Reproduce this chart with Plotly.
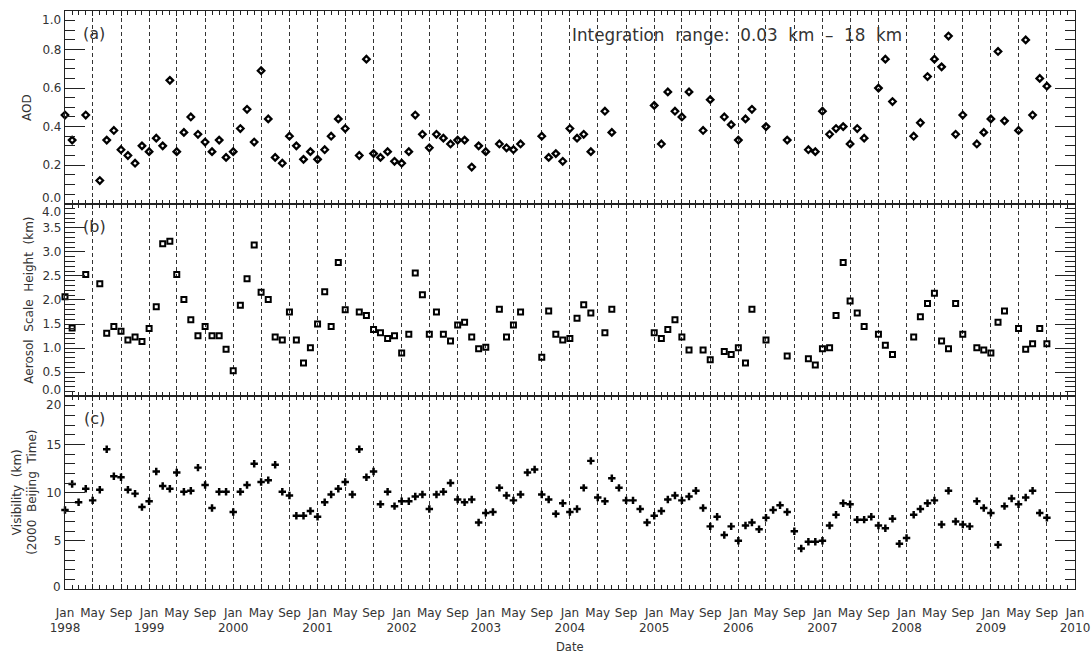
import pandas as pd
import plotly.graph_objects as go
from plotly.subplots import make_subplots

# ---------------- data ----------------
lidar_months = [
    "1998-01", "1998-02", "1998-04", "1998-06", "1998-07", "1998-08", "1998-09", "1998-10", "1998-11", "1998-12",
    "1999-01", "1999-02", "1999-03", "1999-04", "1999-05", "1999-06", "1999-07", "1999-08", "1999-09", "1999-10", "1999-11", "1999-12",
    "2000-01", "2000-02", "2000-03", "2000-04", "2000-05", "2000-06", "2000-07", "2000-08", "2000-09", "2000-10", "2000-11", "2000-12",
    "2001-01", "2001-02", "2001-03", "2001-04", "2001-05", "2001-07", "2001-08", "2001-09", "2001-10", "2001-11", "2001-12",
    "2002-01", "2002-02", "2002-03", "2002-04", "2002-05", "2002-06", "2002-07", "2002-08", "2002-09", "2002-10", "2002-11", "2002-12",
    "2003-01", "2003-03", "2003-04", "2003-05", "2003-06", "2003-09", "2003-10", "2003-11", "2003-12",
    "2004-01", "2004-02", "2004-03", "2004-04", "2004-06", "2004-07",
    "2005-01", "2005-02", "2005-03", "2005-04", "2005-05", "2005-06", "2005-08", "2005-09", "2005-11", "2005-12",
    "2006-01", "2006-02", "2006-03", "2006-05", "2006-08", "2006-11", "2006-12",
    "2007-01", "2007-02", "2007-03", "2007-04", "2007-05", "2007-06", "2007-07", "2007-09", "2007-10", "2007-11",
    "2008-02", "2008-03", "2008-04", "2008-05", "2008-06", "2008-07", "2008-08", "2008-09", "2008-11", "2008-12",
    "2009-01", "2009-02", "2009-03", "2009-05", "2009-06", "2009-07", "2009-08", "2009-09",
]

aod = [
    0.46, 0.33, 0.46, 0.12, 0.33, 0.38, 0.28, 0.25, 0.21, 0.30,
    0.27, 0.34, 0.30, 0.64, 0.27, 0.37, 0.45, 0.36, 0.32, 0.27, 0.33, 0.24,
    0.27, 0.39, 0.49, 0.32, 0.69, 0.44, 0.24, 0.21, 0.35, 0.30, 0.23, 0.27,
    0.23, 0.28, 0.35, 0.44, 0.39, 0.25, 0.75, 0.26, 0.24, 0.27, 0.22,
    0.21, 0.27, 0.46, 0.36, 0.29, 0.36, 0.34, 0.31, 0.33, 0.33, 0.19, 0.30,
    0.27, 0.31, 0.29, 0.28, 0.31, 0.35, 0.24, 0.26, 0.22,
    0.39, 0.34, 0.36, 0.27, 0.48, 0.37,
    0.51, 0.31, 0.58, 0.48, 0.45, 0.58, 0.38, 0.54, 0.45, 0.41,
    0.33, 0.44, 0.49, 0.40, 0.33, 0.28, 0.27,
    0.48, 0.36, 0.39, 0.40, 0.31, 0.39, 0.34, 0.60, 0.75, 0.53,
    0.35, 0.42, 0.66, 0.75, 0.71, 0.87, 0.36, 0.46, 0.31, 0.37,
    0.44, 0.79, 0.43, 0.38, 0.85, 0.46, 0.65, 0.61,
]

scale_height = [
    2.07, 1.42, 2.53, 2.34, 1.31, 1.45, 1.35, 1.17, 1.23, 1.14,
    1.41, 1.86, 3.17, 3.22, 2.53, 2.01, 1.59, 1.26, 1.45, 1.26, 1.26, 0.98,
    0.53, 1.89, 2.44, 3.14, 2.16, 2.01, 1.23, 1.17, 1.75, 1.17, 0.69, 1.01,
    1.50, 2.17, 1.45, 2.78, 1.80, 1.75, 1.68, 1.39, 1.32, 1.20, 1.26,
    0.90, 1.29, 2.56, 2.11, 1.29, 1.75, 1.29, 1.15, 1.48, 1.54, 1.23, 0.99,
    1.02, 1.81, 1.23, 1.48, 1.75, 0.81, 1.77, 1.29, 1.17,
    1.20, 1.62, 1.90, 1.73, 1.32, 1.81,
    1.32, 1.20, 1.39, 1.59, 1.23, 0.96, 0.96, 0.76, 0.93, 0.87,
    1.01, 0.69, 1.81, 1.17, 0.84, 0.78, 0.65,
    0.99, 1.01, 1.68, 2.78, 1.98, 1.73, 1.45, 1.29, 1.06, 0.87,
    1.23, 1.65, 1.93, 2.14, 1.15, 0.99, 1.93, 1.29, 1.01, 0.96,
    0.90, 1.54, 1.77, 1.41, 0.98, 1.09, 1.41, 1.09,
]

vis_months = pd.date_range("1998-01-01", "2009-09-01", freq="MS")
visibility = [
    8.2, 10.9, 9.0, 10.4, 9.2, 10.3, 14.5, 11.7, 11.6, 10.3, 9.9, 8.5,
    9.1, 12.2, 10.7, 10.4, 12.1, 10.1, 10.2, 12.6, 10.8, 8.4, 10.1, 10.1,
    8.0, 10.1, 10.8, 13.0, 11.1, 11.3, 12.9, 10.1, 9.7, 7.6, 7.6, 8.1,
    7.5, 9.0, 9.8, 10.4, 11.1, 9.8, 14.5, 11.6, 12.2, 8.8, 10.1, 8.6,
    9.1, 9.1, 9.6, 9.8, 8.3, 9.8, 10.1, 11.0, 9.3, 9.0, 9.3, 6.9,
    7.9, 8.0, 10.5, 9.7, 9.2, 9.8, 12.1, 12.4, 9.8, 9.3, 7.8, 8.9,
    8.0, 8.3, 10.5, 13.3, 9.5, 9.1, 11.5, 10.5, 9.2, 9.2, 8.3, 6.9,
    7.6, 8.1, 9.3, 9.7, 9.2, 9.6, 10.2, 8.4, 6.5, 7.5, 5.6, 6.5,
    5.0, 6.6, 6.9, 6.2, 7.4, 8.2, 8.7, 8.0, 6.0, 4.2, 4.9, 4.9,
    5.0, 6.6, 7.7, 8.9, 8.8, 7.2, 7.2, 7.5, 6.6, 6.3, 7.3, 4.7,
    5.3, 7.7, 8.3, 8.9, 9.2, 6.7, 10.2, 7.0, 6.7, 6.5, 9.1, 8.4,
    7.9, 4.6, 8.6, 9.4, 8.8, 9.5, 10.2, 7.9, 7.4,
]

tick_dates = pd.date_range("1998-01-01", "2010-01-01", freq="4MS")
tick_labels = [f"{d:%b}<br>{d.year}" if d.month == 1 else f"{d:%b}" for d in tick_dates]

aod_ticks = [0.0, 0.2, 0.4, 0.6, 0.8, 1.0]
ash_ticks = [0.0, 0.5, 1.0, 1.5, 2.0, 2.5, 3.0, 3.5, 4.0]
vis_ticks = [0, 5, 10, 15, 20]

lidar_dates = pd.to_datetime(lidar_months)

# ---------------- figure ----------------
FONT = "DejaVu Sans"
INK = "#222222"
TXT = "#333333"
TICK_FS = 12

fig = make_subplots(rows=3, cols=1, shared_xaxes=True, vertical_spacing=0)

fig.add_trace(go.Scatter(
    x=lidar_dates, y=aod, mode="markers",
    marker=dict(symbol="diamond-open", size=5, color="black", line=dict(width=2.3, color="black")),
    showlegend=False, cliponaxis=False), row=1, col=1)
fig.add_trace(go.Scatter(
    x=lidar_dates, y=scale_height, mode="markers",
    marker=dict(symbol="square-open", size=5, color="black", line=dict(width=2, color="black")),
    showlegend=False, cliponaxis=False), row=2, col=1)
fig.add_trace(go.Scatter(
    x=vis_months, y=visibility, mode="markers",
    marker=dict(symbol="cross", size=6.2, color="black", line=dict(width=0)),
    showlegend=False, cliponaxis=False), row=3, col=1)

xcommon = dict(
    type="date", range=["1998-01-01", "2010-01-01"], automargin=False,
    tickmode="array", tickvals=tick_dates, ticktext=tick_labels, tickangle=0,
    ticks="inside", ticklen=5, tickwidth=1, tickcolor=INK,
    showline=True, linecolor=INK, linewidth=1.2, mirror="allticks",
    showgrid=True, gridcolor="#333333", gridwidth=1, griddash="4px,3px",
    zeroline=False,
    minor=dict(tickmode="linear", tick0="1998-01-01", dtick="M1",
               ticks="inside", ticklen=4, tickwidth=1, tickcolor=INK, showgrid=False),
    tickfont=dict(family=FONT, size=TICK_FS, color=TXT),
)
for r in (1, 2, 3):
    fig.update_xaxes(**xcommon, row=r, col=1)
fig.update_xaxes(showticklabels=True, ticklabelstandoff=12, row=3, col=1)


def yaxis_cfg(rng, ticks, minor_dtick, fmt):
    labels = [""] + [fmt(t) for t in ticks[1:-1]] + [""]
    return dict(
        range=rng, automargin=False, tickmode="array", tickvals=ticks, ticktext=labels,
        ticks="inside", ticklen=20, tickwidth=1, tickcolor=INK,
        showline=True, linecolor=INK, linewidth=1.2, mirror="allticks",
        showgrid=False, zeroline=False,
        minor=dict(tickmode="linear", tick0=0, dtick=minor_dtick,
                   ticks="inside", ticklen=10, tickwidth=1, tickcolor=INK, showgrid=False),
        tickfont=dict(family=FONT, size=TICK_FS, color=TXT),
    )


fig.update_yaxes(**yaxis_cfg([0, 1], aod_ticks, 0.05, lambda t: f"{t:.1f}"), row=1, col=1)
fig.update_yaxes(**yaxis_cfg([0, 4], ash_ticks, 0.1, lambda t: f"{t:.1f}"), row=2, col=1)
fig.update_yaxes(**yaxis_cfg([0, 20], vis_ticks, 1, lambda t: f"{t:d}"), row=3, col=1)

annotations = []
# edge tick labels (shifted off the panel borders, as in the original)
edge_labels = [
    ("y", aod_ticks[-1], f"{aod_ticks[-1]:.1f}", -9),
    ("y", aod_ticks[0], f"{aod_ticks[0]:.1f}", 6),
    ("y2", ash_ticks[-1], f"{ash_ticks[-1]:.1f}", -8),
    ("y2", ash_ticks[0], f"{ash_ticks[0]:.1f}", 6),
    ("y3", vis_ticks[-1], f"{vis_ticks[-1]:d}", -9),
    ("y3", vis_ticks[0], f"{vis_ticks[0]:d}", 2),
]
for yref, val, txt, shift in edge_labels:
    annotations.append(dict(xref="paper", x=0, xanchor="right", xshift=-3,
                            yref=yref, y=val, yanchor="middle", yshift=shift,
                            text=txt, showarrow=False, borderpad=0,
                            font=dict(family=FONT, size=TICK_FS, color=TXT)))

# panel letters
for yref, letter in (("y domain", "(a)"), ("y2 domain", "(b)"), ("y3 domain", "(c)")):
    annotations.append(dict(xref="x domain", x=0.029, xanchor="center",
                            yref=yref, y=1, yanchor="middle", yshift=-22.5,
                            text=letter, showarrow=False,
                            font=dict(family=FONT, size=16, color=TXT)))

annotations.append(dict(xref="x domain", x=0.5, xanchor="left",
                        yref="y domain", y=1, yanchor="middle", yshift=-24,
                        text="Integration  range:  0.03  km  –  18  km", showarrow=False,
                        font=dict(family=FONT, size=16.8, color=TXT)))

# axis titles
annotations.append(dict(xref="paper", x=-0.037, xanchor="center", yref="y domain", y=0.5,
                        yanchor="middle", text="AOD", textangle=-90, showarrow=False,
                        font=dict(family=FONT, size=12, color=TXT)))
annotations.append(dict(xref="paper", x=-0.036, xanchor="center", yref="y2 domain", y=0.5,
                        yanchor="middle", text="Aerosol  Scale  Height  (km)", textangle=-90,
                        showarrow=False, font=dict(family=FONT, size=12, color=TXT)))
annotations.append(dict(xref="paper", x=-0.0404, xanchor="center", yref="y3 domain", y=0.5,
                        yanchor="middle", text="Visibility  (km)<br>(2000  Beijing  Time)",
                        textangle=-90, showarrow=False,
                        font=dict(family=FONT, size=12, color=TXT)))
annotations.append(dict(xref="x domain", x=0.5, xanchor="center", yref="paper", y=-0.1012,
                        yanchor="middle", text="Date", showarrow=False, borderpad=0,
                        font=dict(family=FONT, size=11.5, color=TXT)))

fig.update_layout(
    width=1091, height=654,
    margin=dict(l=65, r=16, t=11, b=65, autoexpand=False),
    paper_bgcolor="white", plot_bgcolor="white",
    font=dict(family=FONT, color=TXT),
    annotations=annotations,
    showlegend=False,
)

fig.write_html(
    "out.html",
    config={"displayModeBar": False},
    post_script="document.body.style.margin='0';document.body.style.overflow='hidden';",
)
